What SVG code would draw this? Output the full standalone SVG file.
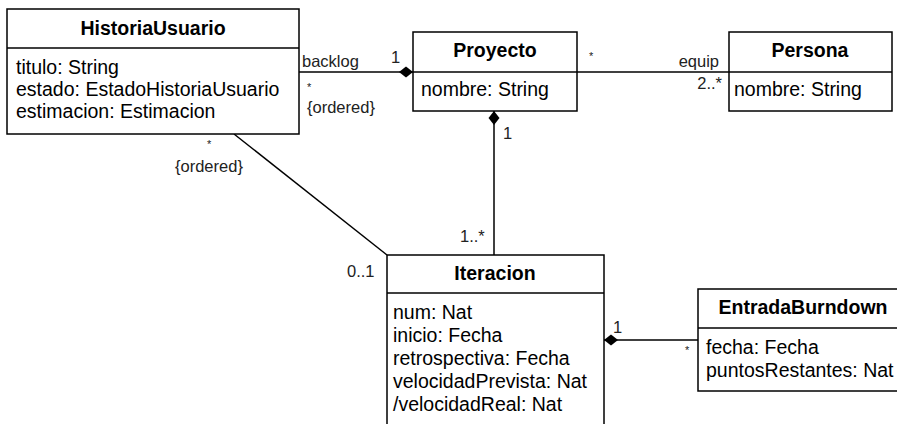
<svg xmlns="http://www.w3.org/2000/svg" width="897" height="424" viewBox="0 0 897 424">
<style>
.box{fill:#fff;stroke:#000;stroke-width:1.5}
.div{stroke:#000;stroke-width:1.5}
.hdr{font-family:"Liberation Sans",Arial,Helvetica,sans-serif;font-size:19.5px;font-weight:bold;fill:#000;text-anchor:middle}
.att{font-family:"Liberation Sans",Arial,Helvetica,sans-serif;font-size:19.5px;fill:#000}
.lbl{font-family:"Liberation Sans",Arial,Helvetica,sans-serif;font-size:16.5px;fill:#222}
.star{font-family:"Liberation Sans",Arial,Helvetica,sans-serif;font-size:11px;fill:#222}
.end{text-anchor:end}
.con{fill:none;stroke:#000;stroke-width:1.5}
</style>
<defs>
<marker id="diamond" markerUnits="userSpaceOnUse" markerWidth="15" markerHeight="12" refX="0" refY="6" orient="auto" viewBox="0 0 15 12">
<path d="M0,6 L7,0.5 L14,6 L7,11.5 Z" fill="#000"/>
</marker>
</defs>
<rect width="897" height="424" fill="#fff"/>
<g id="connectors">
<path class="con" d="M413,72 L299,72" marker-start="url(#diamond)"/>
<path class="con" d="M577,72 L729,72"/>
<path class="con" d="M494,111 L494,255" marker-start="url(#diamond)"/>
<path class="con" d="M234,134 L387,255"/>
<path class="con" d="M604,340 L698,340" marker-start="url(#diamond)"/>
<text class="lbl" x="302" y="67">backlog</text>
<text class="lbl" x="391" y="63">1</text>
<text class="star" x="307" y="91">*</text>
<text class="lbl" x="307" y="113">{ordered}</text>
<text class="star" x="589" y="60">*</text>
<text class="lbl end" x="719" y="67">equip</text>
<text class="lbl end" x="722" y="89">2..*</text>
<text class="lbl" x="503" y="139">1</text>
<text class="lbl" x="460" y="242">1..*</text>
<text class="star" x="207" y="148">*</text>
<text class="lbl" x="175" y="172">{ordered}</text>
<text class="lbl" x="347" y="277">0..1</text>
<text class="lbl" x="613" y="333">1</text>
<text class="star" x="685" y="354">*</text>
</g>
<g id="HistoriaUsuario">
<rect class="box" x="7" y="9" width="292" height="125"/>
<line class="div" x1="7" y1="48" x2="299" y2="48"/>
<text class="hdr" x="153" y="35">HistoriaUsuario</text>
<text class="att" x="16" y="74">titulo: String</text>
<text class="att" x="16" y="96">estado: EstadoHistoriaUsuario</text>
<text class="att" x="16" y="118">estimacion: Estimacion</text>
</g>
<g id="Proyecto">
<rect class="box" x="413" y="32" width="164" height="79"/>
<line class="div" x1="413" y1="72" x2="577" y2="72"/>
<text class="hdr" x="495" y="57">Proyecto</text>
<text class="att" x="421" y="96">nombre: String</text>
</g>
<g id="Persona">
<rect class="box" x="729" y="32" width="163" height="79"/>
<line class="div" x1="729" y1="72" x2="892" y2="72"/>
<text class="hdr" x="810" y="57">Persona</text>
<text class="att" x="734" y="96">nombre: String</text>
</g>
<g id="Iteracion">
<rect class="box" x="387" y="255" width="217" height="185"/>
<line class="div" x1="387" y1="293" x2="604" y2="293"/>
<text class="hdr" x="495" y="280">Iteracion</text>
<text class="att" x="393" y="319">num: Nat</text>
<text class="att" x="393" y="342">inicio: Fecha</text>
<text class="att" x="393" y="365">retrospectiva: Fecha</text>
<text class="att" x="393" y="388">velocidadPrevista: Nat</text>
<text class="att" x="393" y="411">/velocidadReal: Nat</text>
</g>
<g id="EntradaBurndown">
<rect class="box" x="698" y="289" width="210" height="102"/>
<line class="div" x1="698" y1="328" x2="908" y2="328"/>
<text class="hdr" x="803" y="314">EntradaBurndown</text>
<text class="att" x="706" y="354">fecha: Fecha</text>
<text class="att" x="706" y="377">puntosRestantes: Nat</text>
</g>
</svg>
